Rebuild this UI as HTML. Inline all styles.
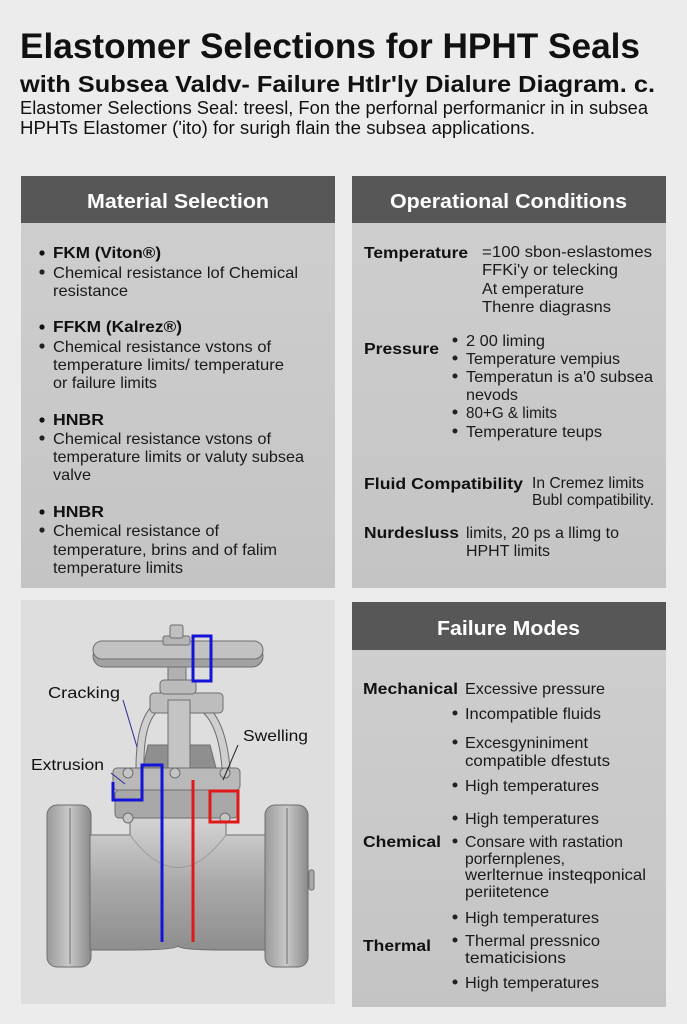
<!DOCTYPE html>
<html><head><meta charset="utf-8"><style>
html,body{margin:0;padding:0;background:#ececec;}
svg{display:block;}
text{font-family:"Liberation Sans",Arial,sans-serif;fill:#111;}
.b{font-weight:bold;}
.h{font-weight:bold;fill:#fff;font-size:20px;}
.t{font-size:16px;fill:#1a1a1a;}
.tb{font-size:16px;font-weight:bold;fill:#111;}
</style></head><body>
<svg width="687" height="1024" viewBox="0 0 687 1024" xmlns="http://www.w3.org/2000/svg">
<defs>
<linearGradient id="pg" x1="0" y1="0" x2="0" y2="1"><stop offset="0" stop-color="#cfcfcf"/><stop offset="1" stop-color="#c4c4c4"/></linearGradient>
<linearGradient id="met" x1="0" y1="0" x2="0" y2="1"><stop offset="0" stop-color="#d4d4d4"/><stop offset="0.5" stop-color="#a9a9a9"/><stop offset="1" stop-color="#8e8e8e"/></linearGradient>
<linearGradient id="metv" x1="0" y1="0" x2="1" y2="0"><stop offset="0" stop-color="#9a9a9a"/><stop offset="0.5" stop-color="#c9c9c9"/><stop offset="1" stop-color="#8a8a8a"/></linearGradient>
</defs>
<rect width="687" height="1024" fill="#ececec"/>
<text x="20" y="58" font-size="35" class="b" textLength="620" lengthAdjust="spacingAndGlyphs">Elastomer Selections for HPHT Seals</text>
<text x="20" y="92" font-size="23" class="b" textLength="635" lengthAdjust="spacingAndGlyphs">with  Subsea Valdv- Failure Htlr'ly Dialure Diagram. c.</text>
<text x="20" y="114" font-size="18" fill="#222" textLength="628" lengthAdjust="spacingAndGlyphs">Elastomer Selections Seal: treesl, Fon the perfornal performanicr in in subsea</text>
<text x="20" y="134" font-size="18" fill="#222" textLength="515" lengthAdjust="spacingAndGlyphs">HPHTs Elastomer ('ito) for  surigh flain the subsea applications.</text>

<rect x="21" y="176" width="314" height="412" fill="url(#pg)"/>
<rect x="21" y="176" width="314" height="47" fill="#575757"/>
<text x="87" y="208" class="h" textLength="182" lengthAdjust="spacingAndGlyphs">Material Selection</text>
<rect x="352" y="176" width="314" height="412" fill="url(#pg)"/>
<rect x="352" y="176" width="314" height="47" fill="#575757"/>
<text x="390" y="208" class="h" textLength="237" lengthAdjust="spacingAndGlyphs">Operational Conditions</text>

<g>
<circle cx="42" cy="253" r="2.6" fill="#111"/><text x="53" y="258" class="tb" textLength="108" lengthAdjust="spacingAndGlyphs">FKM (Viton®)</text>
<circle cx="42" cy="272" r="2.6" fill="#222"/><text x="53" y="278" class="t" textLength="245" lengthAdjust="spacingAndGlyphs">Chemical resistance lof  Chemical</text>
<text x="53" y="296" class="t" textLength="75" lengthAdjust="spacingAndGlyphs">resistance</text>
<circle cx="42" cy="327" r="2.6" fill="#111"/><text x="53" y="332" class="tb" textLength="129" lengthAdjust="spacingAndGlyphs">FFKM (Kalrez®)</text>
<circle cx="42" cy="346" r="2.6" fill="#222"/><text x="53" y="352" class="t" textLength="218" lengthAdjust="spacingAndGlyphs">Chemical resistance vstons of</text>
<text x="53" y="370" class="t" textLength="231" lengthAdjust="spacingAndGlyphs">temperature limits/ temperature</text>
<text x="53" y="388" class="t" textLength="104" lengthAdjust="spacingAndGlyphs">or failure limits</text>
<circle cx="42" cy="420" r="2.6" fill="#111"/><text x="53" y="425" class="tb" textLength="51" lengthAdjust="spacingAndGlyphs">HNBR</text>
<circle cx="42" cy="438" r="2.6" fill="#222"/><text x="53" y="444" class="t" textLength="218" lengthAdjust="spacingAndGlyphs">Chemical resistance vstons of</text>
<text x="53" y="462" class="t" textLength="251" lengthAdjust="spacingAndGlyphs">temperature limits or valuty subsea</text>
<text x="53" y="480" class="t" textLength="38" lengthAdjust="spacingAndGlyphs">valve</text>
<circle cx="42" cy="512" r="2.6" fill="#111"/><text x="53" y="517" class="tb" textLength="51" lengthAdjust="spacingAndGlyphs">HNBR</text>
<circle cx="42" cy="530" r="2.6" fill="#222"/><text x="53" y="536" class="t" textLength="166" lengthAdjust="spacingAndGlyphs">Chemical resistance of</text>
<text x="53" y="555" class="t" textLength="224" lengthAdjust="spacingAndGlyphs">temperature, brins and of falim</text>
<text x="53" y="573" class="t" textLength="130" lengthAdjust="spacingAndGlyphs">temperature limits</text>
</g>

<g>
<text x="364" y="258" class="tb" textLength="104" lengthAdjust="spacingAndGlyphs">Temperature</text>
<text x="482" y="257" class="t" textLength="170" lengthAdjust="spacingAndGlyphs">=100 sbon-eslastomes</text>
<text x="482" y="275" class="t" textLength="136" lengthAdjust="spacingAndGlyphs">FFKi'y or telecking</text>
<text x="482" y="294" class="t" textLength="102" lengthAdjust="spacingAndGlyphs">At emperature</text>
<text x="482" y="312" class="t" textLength="129" lengthAdjust="spacingAndGlyphs">Thenre diagrasns</text>
<text x="364" y="354" class="tb" textLength="75" lengthAdjust="spacingAndGlyphs">Pressure</text>
<circle cx="455" cy="340" r="2.5" fill="#222"/><text x="466" y="346" class="t" textLength="79" lengthAdjust="spacingAndGlyphs">2 00 liming</text>
<circle cx="455" cy="358" r="2.5" fill="#222"/><text x="466" y="364" class="t" textLength="154" lengthAdjust="spacingAndGlyphs">Temperature vempius</text>
<circle cx="455" cy="376" r="2.5" fill="#222"/><text x="466" y="382" class="t" textLength="187" lengthAdjust="spacingAndGlyphs">Temperatun is a'0 subsea</text>
<text x="466" y="400" class="t" textLength="52" lengthAdjust="spacingAndGlyphs">nevods</text>
<circle cx="455" cy="412" r="2.5" fill="#222"/><text x="466" y="418" class="t" textLength="91" lengthAdjust="spacingAndGlyphs">80+G &amp; limits</text>
<circle cx="455" cy="431" r="2.5" fill="#222"/><text x="466" y="437" class="t" textLength="136" lengthAdjust="spacingAndGlyphs">Temperature teups</text>
<text x="364" y="489" class="tb" textLength="159" lengthAdjust="spacingAndGlyphs">Fluid Compatibility</text>
<text x="532" y="488" class="t" textLength="112" lengthAdjust="spacingAndGlyphs">In Cremez limits</text>
<text x="532" y="505" class="t" textLength="122" lengthAdjust="spacingAndGlyphs">Bubl compatibility.</text>
<text x="364" y="538" class="tb" textLength="95" lengthAdjust="spacingAndGlyphs">Nurdesluss</text>
<text x="466" y="538" class="t" textLength="153" lengthAdjust="spacingAndGlyphs">limits, 20 ps a llimg to</text>
<text x="466" y="556" class="t" textLength="84" lengthAdjust="spacingAndGlyphs">HPHT limits</text>
</g>

<rect x="21" y="600" width="314" height="404" fill="#dedede"/>
<g stroke="#6e6e6e" stroke-width="1">
<rect x="47" y="805" width="44" height="162" rx="10" fill="url(#metv)"/>
<line x1="70" y1="808" x2="70" y2="964"/>
<rect x="265" y="805" width="43" height="162" rx="10" fill="url(#metv)"/>
<line x1="287" y1="808" x2="287" y2="964"/>
<path d="M90 835 L130 835 L130 818 L226 818 L226 835 L265 835 L265 950 L225 950 Q180 950 178 946 Q175 950 130 950 L90 950 Z" fill="url(#met)"/>
<path d="M130 835 Q178 900 226 835" fill="none" stroke="#999"/>
<rect x="113" y="768" width="127" height="22" rx="4" fill="#b9b9b9"/>
<rect x="115" y="790" width="123" height="28" rx="4" fill="#a8a8a8"/>
<circle cx="128" cy="773" r="5" fill="#c5c5c5"/><circle cx="175" cy="773" r="5" fill="#c5c5c5"/><circle cx="225" cy="773" r="5" fill="#c5c5c5"/>
<circle cx="128" cy="818" r="5" fill="#c5c5c5"/><circle cx="225" cy="818" r="5" fill="#c5c5c5"/>
<path d="M143 768 L148 745 L210 745 L216 768 Z" fill="#8f8f8f"/>
<path d="M136 768 Q136 712 160 700 L198 700 Q225 712 230 768 L222 768 Q218 718 196 708 L162 708 Q143 718 144 768 Z" fill="#cfcfcf"/>
<rect x="150" y="693" width="73" height="20" rx="4" fill="#bdbdbd"/>
<rect x="168" y="700" width="22" height="68" fill="#c4c4c4"/>
<rect x="168" y="662" width="18" height="28" fill="#b1b1b1"/>
<rect x="160" y="680" width="36" height="14" rx="4" fill="#bbbbbb"/>
<rect x="93" y="645" width="170" height="22" rx="11" fill="#a2a2a2"/>
<rect x="93" y="641" width="170" height="18" rx="9" fill="#c2c2c2"/>
<rect x="163" y="636" width="27" height="9" rx="2" fill="#b5b5b5"/>
<rect x="170" y="625" width="13" height="13" rx="2" fill="#c0c0c0"/>
<rect x="309" y="870" width="5" height="20" rx="2" fill="#aaa"/>
</g>
<g fill="none" stroke-width="3">
<rect x="193" y="636" width="18" height="45" stroke="#1414d8"/>
<polyline points="113,782 113,800 142,800 142,765 162,765 162,942" stroke="#1414d8"/>
<line x1="193" y1="780" x2="193" y2="942" stroke="#e01818"/>
<rect x="210" y="791" width="28" height="31" stroke="#e01818"/>
</g>
<g stroke="#222" stroke-width="1">
<line x1="123" y1="700" x2="137" y2="747" stroke="#2a2a9a"/>
<line x1="238" y1="745" x2="223" y2="780"/>
<line x1="111" y1="773" x2="125" y2="784" stroke="#2a2a9a"/>
</g>
<text x="48" y="698" font-size="16" textLength="72" lengthAdjust="spacingAndGlyphs">Cracking</text>
<text x="243" y="741" font-size="16" textLength="65" lengthAdjust="spacingAndGlyphs">Swelling</text>
<text x="31" y="770" font-size="16" textLength="73" lengthAdjust="spacingAndGlyphs">Extrusion</text>

<rect x="352" y="602" width="314" height="405" fill="url(#pg)"/>
<rect x="352" y="602" width="314" height="48" fill="#575757"/>
<text x="437" y="635" class="h" textLength="143" lengthAdjust="spacingAndGlyphs">Failure Modes</text>
<g>
<text x="363" y="694" class="tb" textLength="95" lengthAdjust="spacingAndGlyphs">Mechanical</text>
<text x="465" y="694" class="t" textLength="140" lengthAdjust="spacingAndGlyphs">Excessive pressure</text>
<circle cx="455" cy="713" r="2.5" fill="#222"/><text x="465" y="719" class="t" textLength="136" lengthAdjust="spacingAndGlyphs">Incompatible fluids</text>
<circle cx="455" cy="742" r="2.5" fill="#222"/><text x="465" y="748" class="t" textLength="123" lengthAdjust="spacingAndGlyphs">Excesgyniniment</text>
<text x="465" y="766" class="t" textLength="145" lengthAdjust="spacingAndGlyphs">compatible dfestuts</text>
<circle cx="455" cy="785" r="2.5" fill="#222"/><text x="465" y="791" class="t" textLength="134" lengthAdjust="spacingAndGlyphs">High temperatures</text>
<circle cx="455" cy="818" r="2.5" fill="#222"/><text x="465" y="824" class="t" textLength="134" lengthAdjust="spacingAndGlyphs">High temperatures</text>
<text x="363" y="847" class="tb" textLength="78" lengthAdjust="spacingAndGlyphs">Chemical</text>
<circle cx="455" cy="841" r="2.5" fill="#222"/><text x="465" y="847" class="t" textLength="158" lengthAdjust="spacingAndGlyphs">Consare with rastation</text>
<text x="465" y="864" class="t" textLength="100" lengthAdjust="spacingAndGlyphs">porfernplenes,</text>
<text x="465" y="880" class="t" textLength="181" lengthAdjust="spacingAndGlyphs">werlternue insteqponical</text>
<text x="465" y="897" class="t" textLength="84" lengthAdjust="spacingAndGlyphs">periitetence</text>
<circle cx="455" cy="917" r="2.5" fill="#222"/><text x="465" y="923" class="t" textLength="134" lengthAdjust="spacingAndGlyphs">High temperatures</text>
<text x="363" y="951" class="tb" textLength="68" lengthAdjust="spacingAndGlyphs">Thermal</text>
<circle cx="455" cy="940" r="2.5" fill="#222"/><text x="465" y="946" class="t" textLength="135" lengthAdjust="spacingAndGlyphs">Thermal pressnico</text>
<text x="465" y="963" class="t" textLength="101" lengthAdjust="spacingAndGlyphs">tematicisions</text>
<circle cx="455" cy="982" r="2.5" fill="#222"/><text x="465" y="988" class="t" textLength="134" lengthAdjust="spacingAndGlyphs">High temperatures</text>
</g>
</svg>
</body></html>
